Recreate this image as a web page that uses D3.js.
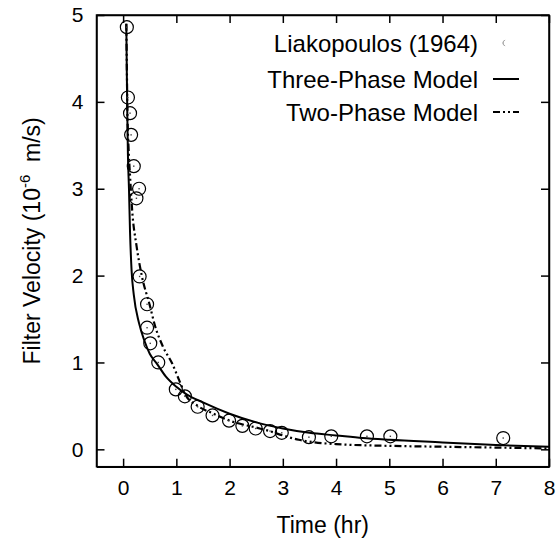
<!DOCTYPE html>
<html lang="en">
<head>
  <meta charset="UTF-8">
  <script type="text/javascript" src="https://cdn.jsdelivr.net/npm/d3@7/dist/d3.min.js"></script>
  <title>Filter Velocity</title>
  <style>
    body { margin: 0; background: white; }
    text { font-family: 'Liberation Sans', Arial, sans-serif; fill: black; }
    .axis path, .axis line { stroke: black; stroke-width: 1.5; }
    .axis text { font-size: 21px; }
    .legend_text { font-size: 24px; text-anchor: end; }
  </style>
</head>
<body>
<div id="chart"></div>
<script>
  // Liakopoulos (1964) measurements: time (hr), filter velocity (1e-6 m/s)
  var obsTime = [0.07, 0.09, 0.13, 0.15, 0.2, 0.3, 0.25, 0.31, 0.45, 0.45, 0.51, 0.66,
                 0.99, 1.16, 1.4, 1.68, 1.99, 2.24, 2.49, 2.76, 2.98, 3.49, 3.91, 4.58, 5.02, 7.14];
  var obsVel  = [4.86, 4.05, 3.87, 3.62, 3.26, 3.0, 2.89, 1.99, 1.67, 1.4, 1.22, 1.0,
                 0.69, 0.61, 0.49, 0.39, 0.33, 0.27, 0.24, 0.21, 0.19, 0.14, 0.15, 0.15, 0.15, 0.13];

  // three-phase model (solid)
  var threeTime = [0.06, 0.07, 0.08, 0.09, 0.11, 0.13, 0.16, 0.2, 0.3, 0.4, 0.5, 0.63, 0.8, 1.0, 1.2,
                   1.5, 2.0, 2.5, 3.0, 3.5, 4.0, 4.5, 5.0, 6.0, 7.0, 8.0];
  var threeVel  = [4.9, 4.3, 3.8, 3.4, 3.0, 2.5, 2.05, 1.78, 1.45, 1.25, 1.1, 0.99, 0.84, 0.72, 0.63,
                   0.54, 0.41, 0.31, 0.24, 0.19, 0.16, 0.13, 0.11, 0.08, 0.05, 0.03];

  // two-phase model (dash-dot-dot)
  var twoTime = [0.06, 0.07, 0.08, 0.1, 0.13, 0.17, 0.25, 0.35, 0.5, 0.6, 0.75, 0.92, 1.05, 1.17,
                 1.4, 1.7, 2.0, 2.5, 2.75, 3.0, 3.3, 3.6, 4.0, 5.0, 6.0, 7.0, 8.0];
  var twoVel  = [4.9, 4.4, 3.9, 3.5, 3.15, 2.75, 2.35, 2.0, 1.66, 1.42, 1.18, 0.99, 0.8, 0.63,
                 0.5, 0.41, 0.33, 0.25, 0.21, 0.16, 0.11, 0.08, 0.06, 0.04, 0.03, 0.02, 0.01];

  var xTicks = [0, 1, 2, 3, 4, 5, 6, 7, 8];
  var yTicks = [0, 1, 2, 3, 4, 5];

  var legendNames = ['Liakopoulos (1964)', 'Three-Phase Model', 'Two-Phase Model'];

  var width = 559, height = 548;
  var plotLeft = 96.5, plotRight = 549, plotTop = 15, plotBottom = 466.7;

  var svg = d3.select('#chart').append('svg')
    .attr('width', width)
    .attr('height', height);

  var xScale = d3.scaleLinear().domain([-0.5, 8]).range([plotLeft, plotRight]);
  var yScale = d3.scaleLinear().domain([-0.2, 5]).range([plotBottom, plotTop]);

  function zip(a, b) { return a.map(function(d, i) { return [d, b[i]]; }); }

  var line = d3.line()
    .x(function(d) { return xScale(d[0]); })
    .y(function(d) { return yScale(d[1]); })
    .curve(d3.curveMonotoneX);

  // models
  svg.append('path')
    .datum(zip(twoTime, twoVel))
    .attr('d', line)
    .attr('fill', 'none')
    .attr('stroke', 'black')
    .attr('stroke-width', 2.2)
    .attr('stroke-dasharray', '7,3,2,3,2,3');

  svg.append('path')
    .datum(zip(threeTime, threeVel))
    .attr('d', line)
    .attr('fill', 'none')
    .attr('stroke', 'black')
    .attr('stroke-width', 2);

  // measured points
  var pts = svg.append('g');
  pts.selectAll('circle')
    .data(zip(obsTime, obsVel))
    .enter().append('circle')
    .attr('cx', function(d) { return xScale(d[0]); })
    .attr('cy', function(d) { return yScale(d[1]); })
    .attr('r', 6.5)
    .attr('fill', 'none')
    .attr('stroke', 'black')
    .attr('stroke-width', 1.2);
  pts.selectAll('rect')
    .data(zip(obsTime, obsVel))
    .enter().append('rect')
    .attr('x', function(d) { return xScale(d[0]) - 0.7; })
    .attr('y', function(d) { return yScale(d[1]) - 0.7; })
    .attr('width', 1.4)
    .attr('height', 1.4)
    .attr('fill', '#444');

  // axes, ticks inside on all four sides
  svg.append('g').attr('class', 'axis')
    .attr('transform', 'translate(0,' + plotBottom + ')')
    .call(d3.axisBottom(xScale).tickValues(xTicks).tickSizeInner(-8).tickSizeOuter(0).tickPadding(13));
  svg.append('g').attr('class', 'axis')
    .attr('transform', 'translate(0,' + plotTop + ')')
    .call(d3.axisTop(xScale).tickValues(xTicks).tickSizeInner(-8).tickSizeOuter(0).tickFormat(''));
  svg.append('g').attr('class', 'axis')
    .attr('transform', 'translate(' + plotLeft + ',0)')
    .call(d3.axisLeft(yScale).tickValues(yTicks).tickSizeInner(-8).tickSizeOuter(0)
      .tickPadding(13).tickFormat(d3.format('d')));
  svg.append('g').attr('class', 'axis')
    .attr('transform', 'translate(' + plotRight + ',0)')
    .call(d3.axisRight(yScale).tickValues(yTicks).tickSizeInner(-8).tickSizeOuter(0).tickFormat(''));

  svg.selectAll('.axis text').attr('font-family', null).attr('font-size', null);

  // frame
  svg.append('rect')
    .attr('x', plotLeft).attr('y', plotTop)
    .attr('width', plotRight - plotLeft).attr('height', plotBottom - plotTop)
    .attr('fill', 'none').attr('stroke', 'black').attr('stroke-width', 1.5);

  // axis titles
  svg.append('text')
    .attr('x', (plotLeft + plotRight) / 2)
    .attr('y', 533)
    .style('font-size', '23px')
    .style('text-anchor', 'middle')
    .text('Time (hr)');

  var yt = svg.append('text')
    .attr('transform', 'translate(40,' + ((plotTop + plotBottom) / 2) + ') rotate(-90)')
    .style('font-size', '23px')
    .style('text-anchor', 'middle');
  yt.append('tspan').text('Filter Velocity (10');
  yt.append('tspan').attr('dy', -10).style('font-size', '15px').text('-6');
  yt.append('tspan').attr('dy', 10).text('\u00a0 m/s)');

  // legend
  var legY = [43, 79, 112];
  svg.selectAll('.legend_text')
    .data(legendNames)
    .enter().append('text')
    .attr('class', 'legend_text')
    .attr('x', 478)
    .attr('y', function(d, i) { return legY[i] + 8.5; })
    .text(function(d) { return d; });

  svg.append('path')
    .attr('d', d3.arc()({ innerRadius: 3, outerRadius: 3, startAngle: Math.PI * 1.1, endAngle: Math.PI * 1.9 }))
    .attr('transform', 'translate(506,' + legY[0] + ')')
    .attr('fill', 'none')
    .attr('stroke', '#aaa')
    .attr('stroke-width', 1);

  svg.append('line')
    .attr('x1', 493).attr('x2', 519)
    .attr('y1', legY[1]).attr('y2', legY[1])
    .attr('stroke', 'black').attr('stroke-width', 2);

  svg.append('line')
    .attr('x1', 493).attr('x2', 519)
    .attr('y1', legY[2]).attr('y2', legY[2])
    .attr('stroke', 'black').attr('stroke-width', 2.2)
    .attr('stroke-dasharray', '7,3,2,3,2,3');
</script>
</body>
</html>
